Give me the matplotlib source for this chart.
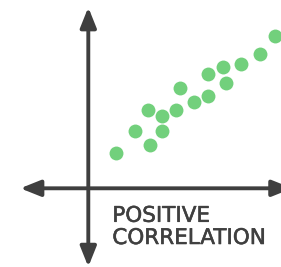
import matplotlib
matplotlib.use("Agg")
import matplotlib.pyplot as plt
import matplotlib.patheffects as pe

# Data (origin at axes crossing, units ~ pixels of reference)
x_vals = [27.4, 46.7, 62.0, 59.4, 73.7, 73.7, 88.0, 91.4, 105.7, 120.0, 120.0, 134.4, 137.4, 153.0, 172.0, 186.4]
y_vals = [35.3, 57.3, 43.0, 78.6, 72.0, 57.3, 78.6, 100.3, 86.3, 92.6, 114.6, 121.6, 105.0, 124.3, 134.0, 152.3]
label_lines = ["POSITIVE", "CORRELATION"]

GREEN = "#72d07c"
DARK = "#3f3f3f"

fig = plt.figure(figsize=(2.81, 2.67), dpi=100)
ax = fig.add_axes([0, 0, 1, 1])
ax.set_xlim(-88.3, 192.7)
ax.set_ylim(-78.7, 188.3)
ax.axis("off")

arrow_kw = dict(arrowstyle="<|-|>,head_length=0.45,head_width=0.18", lw=2.8, color=DARK,
                mutation_scale=27, shrinkA=0, shrinkB=0)
ax.annotate("", xy=(0, 181.0), xytext=(0, -78.5), arrowprops=arrow_kw, annotation_clip=False)
ax.annotate("", xy=(204, 0), xytext=(-68.0, 0), arrowprops=arrow_kw, annotation_clip=False)

ax.scatter(x_vals, y_vals, s=100, color=GREEN, linewidths=0, zorder=3)

effects = [pe.withStroke(linewidth=0.4, foreground=DARK)]
ax.text(24.0, -33.5, label_lines[0], fontsize=15.5, color=DARK, family="DejaVu Sans",
        va="baseline", ha="left", path_effects=effects)
ax.text(24.0, -55.7, label_lines[1], fontsize=15.5, color=DARK, family="DejaVu Sans",
        va="baseline", ha="left", path_effects=effects)

fig.savefig("out.png", dpi=100)
